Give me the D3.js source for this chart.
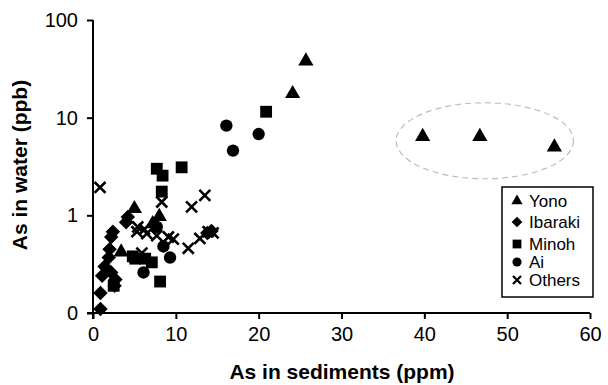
<!DOCTYPE html>
<html>
<head>
<meta charset="utf-8">
<script src="https://cdn.jsdelivr.net/npm/d3@7"></script>
<style>
  body { margin: 0; background: #fff; }
  svg { display: block; font-family: Arial, "Liberation Sans", sans-serif; }
</style>
</head>
<body>
<div id="chart"></div>
<script>
var chart_width = 608,
    chart_height = 385;

// Data (As in sediments ppm, As in water ppb)
var groups = ['Yono', 'Ibaraki', 'Minoh', 'Ai', 'Others'];

var yono_x = [25.7, 24.1, 39.8, 46.7, 55.7, 5.0, 8.0, 7.2, 3.4];
var yono_y = [38, 17.6, 6.4, 6.4, 5.0, 1.17, 0.97, 0.82, 0.42];

var ibaraki_x = [4.2, 2.4, 2.2, 2.0, 1.9, 1.4, 1.1, 2.6, 0.9, 0.9, 2.2, 2.7, 4.0, 13.8, 14.3];
var ibaraki_y = [0.96, 0.68, 0.6, 0.45, 0.37, 0.30, 0.24, 0.19, 0.16, 0.11, 0.26, 0.22, 0.85, 0.66, 0.69];

var minoh_x = [7.7, 8.4, 10.7, 20.9, 8.3, 8.1, 7.1, 5.1, 6.3, 2.5, 4.8];
var minoh_y = [3.0, 2.55, 3.1, 11.5, 1.75, 0.21, 0.33, 0.36, 0.36, 0.19, 0.38];

var ai_x = [16.1, 16.9, 20.0, 8.5, 9.3, 6.1, 7.7];
var ai_y = [8.3, 4.6, 6.8, 0.48, 0.37, 0.26, 0.76];

var others_x = [0.85, 8.3, 11.9, 13.5, 11.5, 12.9, 13.9, 14.5, 5.3, 6.5, 7.7, 9.1, 5.9, 9.7, 5.4, 6.2];
var others_y = [1.93, 1.37, 1.22, 1.6, 0.46, 0.58, 0.68, 0.66, 0.68, 0.65, 0.62, 0.6, 0.41, 0.57, 0.76, 0.72];

var x_ticks = [0, 10, 20, 30, 40, 50, 60];
var y_ticks = [0.1, 1, 10, 100];
var y_tick_labels = ['0', '1', '10', '100'];

// dashed ellipse round the three outlying Yono points (data units)
var ellipse_center = [47.3, 5.8];
var ellipse_radius_x = 10.7;

var series = [
    { name: 'Yono', xs: yono_x, ys: yono_y },
    { name: 'Ibaraki', xs: ibaraki_x, ys: ibaraki_y },
    { name: 'Minoh', xs: minoh_x, ys: minoh_y },
    { name: 'Ai', xs: ai_x, ys: ai_y },
    { name: 'Others', xs: others_x, ys: others_y }
];

var x = d3.scaleLinear().domain([0, 60]).range([93, 590]);
var y = d3.scaleLog().domain([0.1, 100]).range([313, 20]);

var symbol_type = {
    Yono: d3.symbolTriangle,
    Ibaraki: d3.symbolSquare,
    Minoh: d3.symbolSquare,
    Ai: d3.symbolCircle,
    Others: d3.symbolX
};
var symbol_size = { Yono: 100, Ibaraki: 105, Minoh: 140, Ai: 120, Others: 80 };
var symbol_rotate = { Yono: 0, Ibaraki: 45, Minoh: 0, Ai: 0, Others: 0 };

function marker(name, scale) {
    return d3.symbol().type(symbol_type[name]).size(symbol_size[name] * (scale || 1))();
}

var svg = d3.select('#chart')
    .append('svg')
    .attr('width', chart_width)
    .attr('height', chart_height);

// ellipse
svg.append('ellipse')
    .attr('cx', x(ellipse_center[0]))
    .attr('cy', y(ellipse_center[1]))
    .attr('rx', x(ellipse_center[0] + ellipse_radius_x) - x(ellipse_center[0]))
    .attr('ry', 38)
    .attr('fill', 'none')
    .attr('stroke', '#bdbdbd')
    .attr('stroke-width', 1.2)
    .attr('stroke-dasharray', '6,4');

// Axes
var xAxis = d3.axisBottom(x).tickValues(x_ticks).tickSizeOuter(0).tickSize(6).tickPadding(8);
var yAxis = d3.axisLeft(y).tickValues(y_ticks).tickSizeOuter(0).tickSize(6).tickPadding(9)
    .tickFormat(function (d, i) { return y_tick_labels[i]; });

var gx = svg.append('g').attr('transform', 'translate(0,313)').call(xAxis);
var gy = svg.append('g').attr('transform', 'translate(93,0)').call(yAxis);

[gx, gy].forEach(function (g) {
    g.selectAll('path').attr('stroke', '#000').attr('stroke-width', 2);
    g.selectAll('line').attr('stroke', '#000').attr('stroke-width', 2);
    g.selectAll('text')
        .attr('fill', '#000')
        .style('font-size', '20px')
        .style('font-family', 'Arial, "Liberation Sans", sans-serif');
});
// extend the axis lines slightly past the origin
gx.select('path').attr('d', 'M' + (x(0) - 6) + ',0H' + x(60));
gy.select('path').attr('d', 'M0,' + y(100) + 'V' + (y(0.1) + 6));

// Axis titles
svg.append('text')
    .attr('x', 342)
    .attr('y', 379)
    .attr('text-anchor', 'middle')
    .style('font-size', '21px')
    .style('font-weight', 'bold')
    .text('As in sediments (ppm)');

svg.append('text')
    .attr('transform', 'translate(27,165) rotate(-90)')
    .attr('text-anchor', 'middle')
    .style('font-size', '21px')
    .style('font-weight', 'bold')
    .text('As in water (ppb)');

// Points
series.forEach(function (s) {
    svg.append('g')
        .selectAll('path')
        .data(s.xs.map(function (v, i) { return [v, s.ys[i]]; }))
        .enter()
        .append('path')
        .attr('transform', function (d) {
            return 'translate(' + x(d[0]) + ',' + y(d[1]) + ') rotate(' + symbol_rotate[s.name] + ')';
        })
        .attr('d', marker(s.name))
        .attr('fill', s.name === 'Others' ? 'none' : '#000')
        .attr('stroke', s.name === 'Others' ? '#000' : 'none')
        .attr('stroke-width', 2.6);
});

// Legend
var legend = svg.append('g').attr('transform', 'translate(502,187)');
legend.append('rect')
    .attr('width', 91)
    .attr('height', 110)
    .attr('fill', '#fff')
    .attr('stroke', '#000')
    .attr('stroke-width', 1.5);

var legend_y = [14, 35, 57, 75, 93];
groups.forEach(function (name, i) {
    var row = legend.append('g').attr('transform', 'translate(0,' + legend_y[i] + ')');
    row.append('path')
        .attr('transform', 'translate(15,0) rotate(' + symbol_rotate[name] + ')')
        .attr('d', marker(name, 0.55))
        .attr('fill', name === 'Others' ? 'none' : '#000')
        .attr('stroke', name === 'Others' ? '#000' : 'none')
        .attr('stroke-width', 2.2);
    row.append('text')
        .attr('x', 27)
        .attr('dy', '0.35em')
        .style('font-size', '17px')
        .text(name);
});
</script>
</body>
</html>
